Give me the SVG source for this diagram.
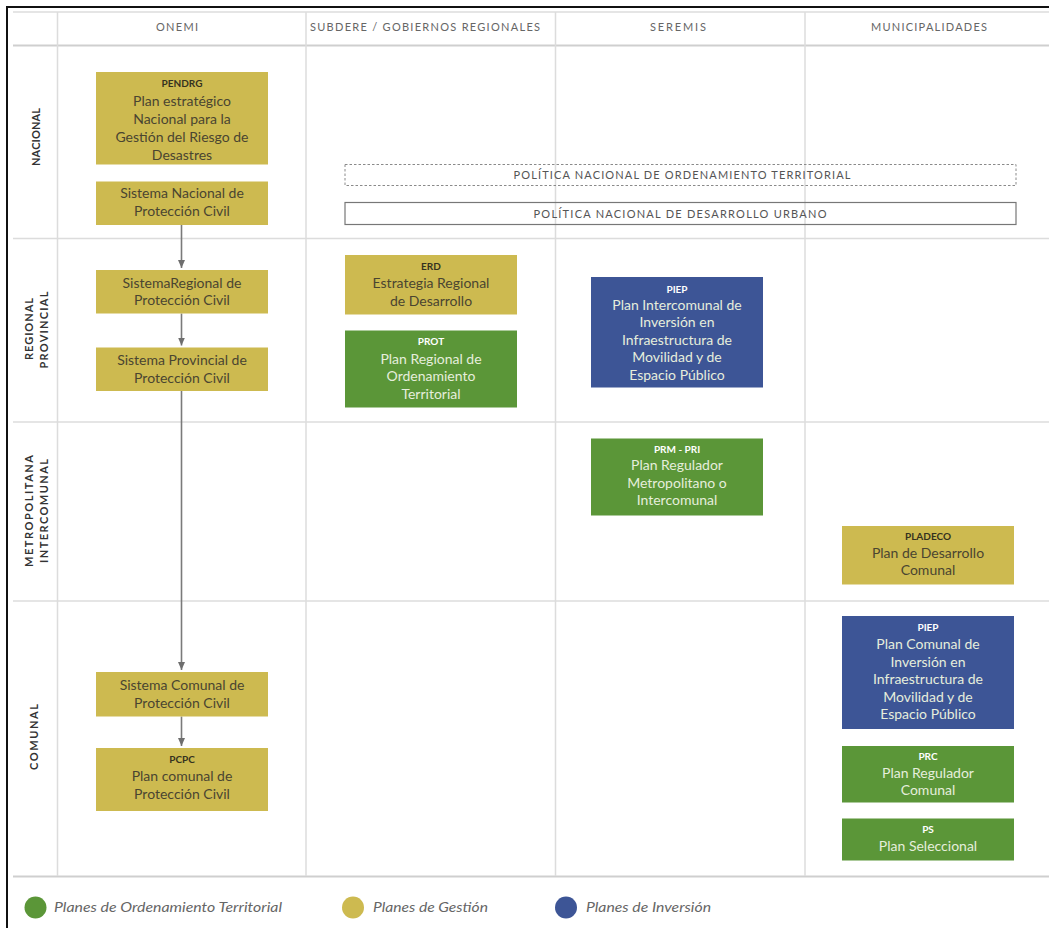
<svg xmlns="http://www.w3.org/2000/svg" width="1049" height="928" viewBox="0 0 1049 928">
<style>
.grid{stroke:#dcdcdc;stroke-width:1.5;fill:none}
.hdr{font-family:Lato,"Open Sans",sans-serif;font-size:11px;fill:#666;text-anchor:middle}
.row{font-family:Lato,"Open Sans",sans-serif;font-size:11px;font-weight:bold;fill:#333;text-anchor:middle}
.pol{font-family:Lato,"Open Sans",sans-serif;font-size:11px;fill:#555;text-anchor:middle}
.y{fill:#cdba50}
.g{fill:#5b9638}
.b{fill:#3d5596}
.t{font-family:Lato,"Open Sans",sans-serif;font-size:10px;font-weight:bold;text-anchor:middle}
.l{font-family:Lato,"Open Sans",sans-serif;font-size:14px;text-anchor:middle}
.dk{fill:#4a4530}
.dkt{fill:#35321f}
.lt{fill:#e6eedc}
.ltt{fill:#ffffff}
.leg{font-family:Lato,"Open Sans",sans-serif;font-size:13px;font-style:italic;fill:#666}
.con{stroke:#7a7a7a;stroke-width:1.6;fill:none}
</style>
<defs>
<marker id="ah" viewBox="0 0 8 7" refX="8" refY="3.5" markerWidth="8" markerHeight="7" markerUnits="userSpaceOnUse" orient="auto">
<path d="M0,0 L8,3.5 L0,7 z" fill="#6e6e6e"/>
</marker>
</defs>
<rect x="0" y="0" width="1049" height="928" fill="#ffffff"/>
<line x1="6" y1="7" x2="1049" y2="7" stroke="#111" stroke-width="2"/>
<line x1="7" y1="6" x2="7" y2="928" stroke="#111" stroke-width="2"/>
<g id="grid">
<line class="grid" x1="13" y1="12" x2="1049" y2="12" stroke-width="1"/>
<line class="grid" x1="13" y1="45.5" x2="1049" y2="45.5" style="stroke:#cfcfcf;stroke-width:2"/>
<line class="grid" x1="13" y1="238.5" x2="1049" y2="238.5"/>
<line class="grid" x1="13" y1="422" x2="1049" y2="422"/>
<line class="grid" x1="13" y1="601" x2="1049" y2="601"/>
<line class="grid" x1="13" y1="876.5" x2="1049" y2="876.5" style="stroke:#cfcfcf;stroke-width:2"/>
<line class="grid" x1="57.5" y1="12" x2="57.5" y2="876"/>
<line class="grid" x1="306" y1="12" x2="306" y2="876"/>
<line class="grid" x1="555.5" y1="12" x2="555.5" y2="876"/>
<line class="grid" x1="805" y1="12" x2="805" y2="876"/>
</g>
<g id="headers">
<text class="hdr" x="177" y="31" textLength="42" lengthAdjust="spacing">ONEMI</text>
<text class="hdr" x="425" y="31" textLength="230" lengthAdjust="spacing">SUBDERE / GOBIERNOS REGIONALES</text>
<text class="hdr" x="678" y="31" textLength="56" lengthAdjust="spacing">SEREMIS</text>
<text class="hdr" x="929" y="31" textLength="116" lengthAdjust="spacing">MUNICIPALIDADES</text>
</g>
<g id="rowlabels">
<text class="row" transform="translate(40,137) rotate(-90)" textLength="58" lengthAdjust="spacing">NACIONAL</text>
<text class="row" transform="translate(32.5,329) rotate(-90)" textLength="62" lengthAdjust="spacing">REGIONAL</text>
<text class="row" transform="translate(48,330) rotate(-90)" textLength="77" lengthAdjust="spacing">PROVINCIAL</text>
<text class="row" transform="translate(32.5,511) rotate(-90)" textLength="112" lengthAdjust="spacing">METROPOLITANA</text>
<text class="row" transform="translate(48,511) rotate(-90)" textLength="104" lengthAdjust="spacing">INTERCOMUNAL</text>
<text class="row" transform="translate(38,737) rotate(-90)" textLength="66" lengthAdjust="spacing">COMUNAL</text>
</g>
<g id="pnot">
<rect x="345" y="164.5" width="671" height="21" fill="none" stroke="#8a8a8a" stroke-width="1" stroke-dasharray="2.5,2"/>
<text class="pol" x="682" y="178.5" textLength="337" lengthAdjust="spacing">POLÍTICA NACIONAL DE ORDENAMIENTO TERRITORIAL</text>
</g>
<g id="pndu">
<rect x="345" y="202.5" width="671" height="22" fill="none" stroke="#777" stroke-width="1.2"/>
<text class="pol" x="680" y="217.5" textLength="293" lengthAdjust="spacing">POLÍTICA NACIONAL DE DESARROLLO URBANO</text>
</g>
<g id="connectors">
<line class="con" x1="181.5" y1="225" x2="181.5" y2="268" marker-end="url(#ah)"/>
<line class="con" x1="181.5" y1="313.5" x2="181.5" y2="345.5" marker-end="url(#ah)"/>
<line class="con" x1="181.5" y1="391" x2="181.5" y2="670" marker-end="url(#ah)"/>
<line class="con" x1="181.5" y1="716.5" x2="181.5" y2="746" marker-end="url(#ah)"/>
</g>
<g id="pendrg">
<rect class="y" x="96" y="72" width="172" height="92.5"/>
<text class="t dkt" x="182" y="86.5">PENDRG</text>
<text class="l dk" x="182" y="106">Plan estratégico</text>
<text class="l dk" x="182" y="124">Nacional para la</text>
<text class="l dk" x="182" y="142">Gestión del Riesgo de</text>
<text class="l dk" x="182" y="159.5">Desastres</text>
</g>
<g id="sis-nacional">
<rect class="y" x="96" y="181.5" width="172" height="43.5"/>
<text class="l dk" x="182" y="198">Sistema Nacional de</text>
<text class="l dk" x="182" y="216">Protección Civil</text>
</g>
<g id="sis-regional">
<rect class="y" x="96" y="270" width="172" height="43.5"/>
<text class="l dk" x="182" y="287.5">SistemaRegional de</text>
<text class="l dk" x="182" y="305">Protección Civil</text>
</g>
<g id="sis-provincial">
<rect class="y" x="96" y="347.5" width="172" height="43.5"/>
<text class="l dk" x="182" y="365">Sistema Provincial de</text>
<text class="l dk" x="182" y="382.5">Protección Civil</text>
</g>
<g id="sis-comunal">
<rect class="y" x="96" y="672" width="172" height="44.5"/>
<text class="l dk" x="182" y="690">Sistema Comunal de</text>
<text class="l dk" x="182" y="707.5">Protección Civil</text>
</g>
<g id="pcpc">
<rect class="y" x="96" y="748" width="172" height="63"/>
<text class="t dkt" x="182" y="762.5">PCPC</text>
<text class="l dk" x="182" y="781">Plan comunal de</text>
<text class="l dk" x="182" y="798.5">Protección Civil</text>
</g>
<g id="erd">
<rect class="y" x="345" y="255" width="172" height="59.5"/>
<text class="t dkt" x="431" y="269.5">ERD</text>
<text class="l dk" x="431" y="288">Estrategia Regional</text>
<text class="l dk" x="431" y="305.5">de Desarrollo</text>
</g>
<g id="prot">
<rect class="g" x="345" y="330.5" width="172" height="77"/>
<text class="t ltt" x="431" y="345">PROT</text>
<text class="l lt" x="431" y="363.5">Plan Regional de</text>
<text class="l lt" x="431" y="381">Ordenamiento</text>
<text class="l lt" x="431" y="398.5">Territorial</text>
</g>
<g id="piep-inter">
<rect class="b" x="591" y="277" width="172" height="110.5"/>
<text class="t ltt" x="677" y="292.5">PIEP</text>
<text class="l lt" x="677" y="309.5">Plan Intercomunal de</text>
<text class="l lt" x="677" y="327">Inversión en</text>
<text class="l lt" x="677" y="344.5">Infraestructura de</text>
<text class="l lt" x="677" y="362">Movilidad y de</text>
<text class="l lt" x="677" y="379.5">Espacio Público</text>
</g>
<g id="prm-pri">
<rect class="g" x="591" y="438.5" width="172" height="77"/>
<text class="t ltt" x="677" y="452.5">PRM - PRI</text>
<text class="l lt" x="677" y="470">Plan Regulador</text>
<text class="l lt" x="677" y="487.5">Metropolitano o</text>
<text class="l lt" x="677" y="505">Intercomunal</text>
</g>
<g id="pladeco">
<rect class="y" x="842" y="526" width="172" height="58.5"/>
<text class="t dkt" x="928" y="540">PLADECO</text>
<text class="l dk" x="928" y="557.5">Plan de Desarrollo</text>
<text class="l dk" x="928" y="575">Comunal</text>
</g>
<g id="piep-comunal">
<rect class="b" x="842" y="616" width="172" height="113"/>
<text class="t ltt" x="928" y="630.5">PIEP</text>
<text class="l lt" x="928" y="649">Plan Comunal de</text>
<text class="l lt" x="928" y="666.5">Inversión en</text>
<text class="l lt" x="928" y="684">Infraestructura de</text>
<text class="l lt" x="928" y="701.5">Movilidad y de</text>
<text class="l lt" x="928" y="719">Espacio Público</text>
</g>
<g id="prc">
<rect class="g" x="842" y="746" width="172" height="56.5"/>
<text class="t ltt" x="928" y="760">PRC</text>
<text class="l lt" x="928" y="778">Plan Regulador</text>
<text class="l lt" x="928" y="795">Comunal</text>
</g>
<g id="ps">
<rect class="g" x="842" y="818.5" width="172" height="42"/>
<text class="t ltt" x="928" y="833">PS</text>
<text class="l lt" x="928" y="851">Plan Seleccional</text>
</g>
<g id="legend">
<circle cx="35.5" cy="907.5" r="11" class="g"/>
<text class="leg" x="54" y="912" textLength="228" lengthAdjust="spacingAndGlyphs">Planes de Ordenamiento Territorial</text>
<circle cx="353" cy="907.5" r="11" class="y"/>
<text class="leg" x="373" y="912" textLength="115" lengthAdjust="spacingAndGlyphs">Planes de Gestión</text>
<circle cx="566" cy="907.5" r="11" class="b"/>
<text class="leg" x="586" y="912" textLength="125" lengthAdjust="spacingAndGlyphs">Planes de Inversión</text>
</g>
</svg>
